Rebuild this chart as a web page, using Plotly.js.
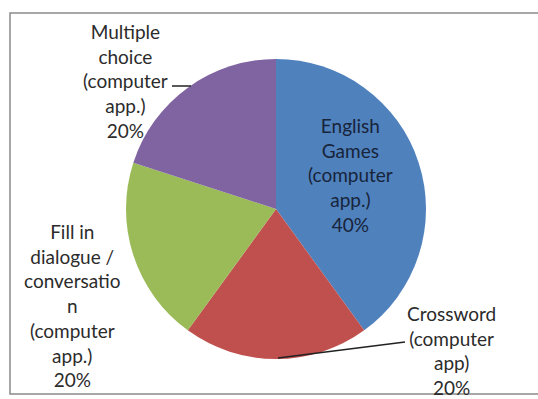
<!DOCTYPE html>
<html>
<head>
<meta charset="utf-8">
<script src="https://cdn.plot.ly/plotly-3.0.1.min.js"></script>
<style>html,body{margin:0;padding:0;background:#fff;}#chart{width:538px;height:399px;}</style>
</head>
<body>
<div id="chart"></div>
<script>
// Data
const categories = ["English Games (computer app.)", "Crossword (computer app)", "Fill in dialogue / conversation (computer app.)", "Multiple choice (computer app.)"];
const values = [40, 20, 20, 20];
const labelLines = [
  ["English", "Games", "(computer", "app.)"],
  ["Crossword", "(computer", "app)"],
  ["Fill in", "dialogue /", "conversatio", "n", "(computer", "app.)"],
  ["Multiple", "choice", "(computer", "app.)"]
];
const colors = ["#4F81BD", "#C0504D", "#9BBB59", "#8064A2"];

// Label placement (pixels in 538x399 page)
const W = 538, H = 399;
const labelPos = [[350, 175, "#17243a"], [451, 350, "#2b2b2b"], [72, 305, "#2b2b2b"], [125, 81, "#2b2b2b"]];

const total = values.reduce((a, b) => a + b, 0);
const annotations = categories.map((c, i) => ({
  xref: "paper", yref: "paper",
  x: labelPos[i][0] / W, y: 1 - labelPos[i][1] / H,
  xanchor: "center", yanchor: "middle",
  showarrow: false, align: "center",
  text: labelLines[i].join("<br>") + "<br>" + Math.round(values[i] / total * 100) + "%",
  font: {family: "Lato, 'Open Sans', sans-serif", size: 19, color: labelPos[i][2]}
}));

const cx = 276, cy = 209, r = 150;
const shapes = [
  {type: "rect", xref: "paper", yref: "paper", x0: 10 / W, x1: 1.02, y0: 1 - 394 / H, y1: 1 - 13 / H,
   line: {color: "#8a8a8a", width: 1.5}, fillcolor: "rgba(0,0,0,0)", layer: "below"},
  {type: "line", xref: "paper", yref: "paper", x0: 172 / W, y0: 1 - 86 / H, x1: 191 / W, y1: 1 - 86 / H,
   line: {color: "#222", width: 1.5}},
  {type: "line", xref: "paper", yref: "paper", x0: 278 / W, y0: 1 - 358 / H, x1: 405 / W, y1: 1 - 342 / H,
   line: {color: "#222", width: 1.5}}
];

const trace = {
  type: "pie",
  labels: categories,
  values: values,
  sort: false,
  direction: "clockwise",
  rotation: 0,
  textinfo: "none",
  hoverinfo: "label+percent",
  marker: {colors: colors, line: {width: 0}},
  domain: {x: [(cx - r) / W, (cx + r) / W], y: [(H - cy - r) / H, (H - cy + r) / H]},
  showlegend: false
};

Plotly.newPlot("chart", [trace], {
  width: W, height: H,
  margin: {l: 0, r: 0, t: 0, b: 0},
  paper_bgcolor: "#ffffff",
  showlegend: false,
  annotations: annotations,
  shapes: shapes
}, {displayModeBar: false, staticPlot: true});
</script>
</body>
</html>
